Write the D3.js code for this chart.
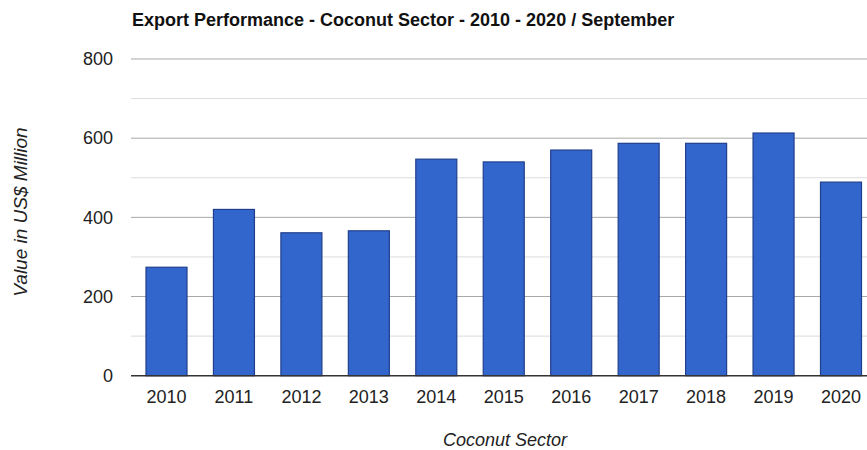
<!DOCTYPE html>
<html>
<head>
<meta charset="utf-8">
<script src="https://cdn.jsdelivr.net/npm/d3@7"></script>
<style>
  html, body { margin: 0; padding: 0; background: #fff; }
  svg { display: block; font-family: Arial, "Liberation Sans", sans-serif; }
</style>
</head>
<body>
<svg id="chart" width="867" height="450"></svg>
<script>
// Coconut sector export values, US$ million
const years = ["2010", "2011", "2012", "2013", "2014", "2015", "2016", "2017", "2018", "2019", "2020"];
const exportValues = [274, 420, 361, 366, 547, 540, 570, 587, 587, 613, 489];
const majorTicks = [0, 200, 400, 600, 800];
const minorTicks = [100, 300, 500, 700];

const titleText = "Export Performance - Coconut Sector - 2010 - 2020 / September";
const xTitle = "Coconut Sector";
const yTitle = "Value in US$ Million";

const svg = d3.select("#chart");
const plot = { left: 131, right: 867, top: 59, bottom: 375.7 };

const x = d3.scaleBand()
  .domain(years)
  .range([132.5, 875])
  .paddingInner(0.392)
  .paddingOuter(0.2);

const y = d3.scaleLinear()
  .domain([0, 800])
  .range([plot.bottom, plot.top]);

// Minor gridlines
svg.append("g").selectAll("line")
  .data(minorTicks)
  .join("line")
  .attr("x1", plot.left).attr("x2", plot.right)
  .attr("y1", d => y(d)).attr("y2", d => y(d))
  .attr("stroke", "#dcdcdc").attr("stroke-width", 1);

// Major gridlines
svg.append("g").selectAll("line")
  .data(majorTicks.filter(d => d > 0))
  .join("line")
  .attr("x1", plot.left).attr("x2", plot.right)
  .attr("y1", d => y(d)).attr("y2", d => y(d))
  .attr("stroke", "#a8a8a8").attr("stroke-width", 1);

// Y axis labels
const yAxis = d3.axisLeft(y).tickValues(majorTicks).tickSize(0).tickPadding(0);
svg.append("g")
  .attr("transform", `translate(113,0)`)
  .call(yAxis)
  .call(g => g.select(".domain").remove())
  .selectAll("text")
  .attr("font-size", 18)
  .attr("font-family", "Arial, 'Liberation Sans', sans-serif")
  .attr("fill", "#222");

// Bars
svg.append("g").selectAll("rect")
  .data(years.map((yr, i) => ({ yr, v: exportValues[i] })))
  .join("rect")
  .attr("x", d => x(d.yr))
  .attr("y", d => y(d.v))
  .attr("width", x.bandwidth())
  .attr("height", d => y(0) - y(d.v))
  .attr("fill", "#3366cc")
  .attr("stroke", "#1f3f8c")
  .attr("stroke-width", 1.2);

// Baseline
svg.append("line")
  .attr("x1", plot.left).attr("x2", plot.right)
  .attr("y1", y(0)).attr("y2", y(0))
  .attr("stroke", "#333").attr("stroke-width", 1.5);

// X axis labels
const xAxis = d3.axisBottom(x).tickSize(0).tickPadding(0);
svg.append("g")
  .attr("transform", `translate(0,${y(0) + 15})`)
  .call(xAxis)
  .call(g => g.select(".domain").remove())
  .selectAll("text")
  .attr("dy", "0.71em")
  .attr("font-size", 18)
  .attr("font-family", "Arial, 'Liberation Sans', sans-serif")
  .attr("fill", "#222");

// Title
svg.append("text")
  .attr("x", 132).attr("y", 26)
  .attr("font-size", 18)
  .attr("font-weight", "bold")
  .attr("fill", "#111")
  .text(titleText);

// Axis titles
svg.append("text")
  .attr("x", 505).attr("y", 446)
  .attr("text-anchor", "middle")
  .attr("font-size", 18)
  .attr("font-style", "italic")
  .attr("fill", "#222")
  .text(xTitle);

svg.append("text")
  .attr("transform", "translate(27,212) rotate(-90)")
  .attr("text-anchor", "middle")
  .attr("font-size", 19)
  .attr("font-style", "italic")
  .attr("fill", "#222")
  .text(yTitle);
</script>
</body>
</html>
